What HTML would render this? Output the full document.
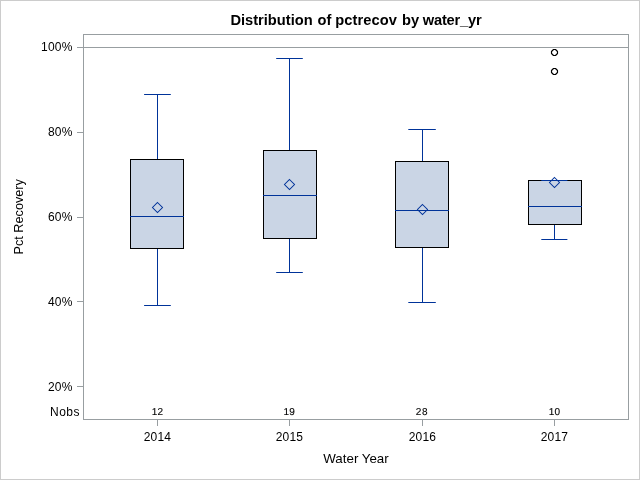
<!DOCTYPE html>
<html><head><meta charset="utf-8">
<style>
html,body{margin:0;padding:0;background:#fff;}
body{width:640px;height:480px;overflow:hidden;position:relative;font-family:"Liberation Sans",sans-serif;}
svg{position:absolute;left:0;top:0;}
text{font-family:"Liberation Sans",sans-serif;fill:#000;}
.t{font-size:12px;}
.n{font-size:10px;text-rendering:geometricPrecision;letter-spacing:0.7px;stroke:#000;stroke-width:0.12px;}
.l{font-size:13.33px;}
.title{font-size:14.67px;font-weight:bold;}
</style></head><body>
<svg width="640" height="480" viewBox="0 0 640 480">
<rect x="0" y="0" width="640" height="480" fill="#fff"/>
<!-- outer frame -->
<g shape-rendering="crispEdges">
<rect x="0.5" y="0.5" width="639" height="479" fill="none" stroke="#cccccc" stroke-width="1"/>
<!-- plot area -->
<rect x="83.5" y="34.5" width="545" height="385" fill="#fff" stroke="#989ea1" stroke-width="1"/>
<!-- ref line -->
<line x1="83" y1="47.5" x2="629" y2="47.5" stroke="#989ea1"/>
<!-- y ticks -->
<g stroke="#989ea1">
<line x1="77" y1="47.5" x2="83" y2="47.5"/>
<line x1="77" y1="132.5" x2="83" y2="132.5"/>
<line x1="77" y1="217.5" x2="83" y2="217.5"/>
<line x1="77" y1="301.5" x2="83" y2="301.5"/>
<line x1="77" y1="386.5" x2="83" y2="386.5"/>
<!-- x ticks -->
<line x1="157.5" y1="420" x2="157.5" y2="426"/>
<line x1="289.5" y1="420" x2="289.5" y2="426"/>
<line x1="422.5" y1="420" x2="422.5" y2="426"/>
<line x1="554.5" y1="420" x2="554.5" y2="426"/>
</g>
<!-- boxes -->
<g stroke="#003399" stroke-width="1" fill="none">
<!-- 2014 -->
<line x1="157.5" y1="94" x2="157.5" y2="159"/>
<line x1="157.5" y1="249" x2="157.5" y2="306"/>
<!-- 2015 -->
<line x1="289.5" y1="58" x2="289.5" y2="150"/>
<line x1="289.5" y1="239" x2="289.5" y2="273"/>
<!-- 2016 -->
<line x1="422.5" y1="129" x2="422.5" y2="161"/>
<line x1="422.5" y1="248" x2="422.5" y2="303"/>
<!-- 2017 -->
<line x1="554.5" y1="225" x2="554.5" y2="240"/>
</g>
<g stroke="#000" stroke-width="1" fill="#cad5e5">
<rect x="130.5" y="159.5" width="53" height="89"/>
<rect x="263.5" y="150.5" width="53" height="88"/>
<rect x="395.5" y="161.5" width="53" height="86"/>
<rect x="528.5" y="180.5" width="53" height="44"/>
</g>
<g stroke="#003399" stroke-width="1" fill="none">
<line x1="130" y1="216.5" x2="184" y2="216.5"/>
<line x1="263" y1="195.5" x2="317" y2="195.5"/>
<line x1="395" y1="210.5" x2="449" y2="210.5"/>
<line x1="528" y1="206.5" x2="582" y2="206.5"/>

</g>
</g>
<!-- whisker caps -->
<g stroke="#003399" stroke-width="1" fill="none">
<line x1="144.1" y1="94.5" x2="170.8" y2="94.5"/>
<line x1="144.1" y1="305.5" x2="170.8" y2="305.5"/>
<line x1="276.2" y1="58.5" x2="302.8" y2="58.5"/>
<line x1="276.2" y1="272.5" x2="302.8" y2="272.5"/>
<line x1="408.3" y1="129.5" x2="435.8" y2="129.5"/>
<line x1="408.3" y1="302.5" x2="435.8" y2="302.5"/>
<line x1="541.3" y1="239.5" x2="567.4" y2="239.5"/>
<line x1="541.3" y1="180.5" x2="567.4" y2="180.5"/>
</g>
<!-- diamonds -->
<g stroke="#003399" stroke-width="1.05" fill="none">
<path d="M157.5 202.5 L162.5 207.5 L157.5 212.5 L152.5 207.5 Z"/>
<path d="M289.5 179.5 L294.5 184.5 L289.5 189.5 L284.5 184.5 Z"/>
<path d="M422.5 204.5 L427.5 209.5 L422.5 214.5 L417.5 209.5 Z"/>
<path d="M554.5 177.5 L559.5 182.5 L554.5 187.5 L549.5 182.5 Z"/>
</g>
<!-- outliers -->
<g stroke="#000" stroke-width="1.15" fill="none" stroke-linejoin="round">
<path d="M553.5 49.5 L555.5 49.5 L557.5 51.5 L557.5 53.5 L555.5 55.5 L553.5 55.5 L551.5 53.5 L551.5 51.5 Z"/>
<path d="M553.5 68.5 L555.5 68.5 L557.5 70.5 L557.5 72.5 L555.5 74.5 L553.5 74.5 L551.5 72.5 L551.5 70.5 Z"/>
</g>
<!-- text -->
<text class="title" y="24.6"><tspan x="230.4">Distribution </tspan><tspan x="317.6">of </tspan><tspan x="335.2" style="letter-spacing:0.1px">pctrecov </tspan><tspan x="402.1">by </tspan><tspan x="422.7" style="letter-spacing:-0.18px">water_yr</tspan></text>
<g class="t" text-anchor="end" style="letter-spacing:0.2px">
<text x="72.6" y="51">100%</text>
<text x="72.6" y="136">80%</text>
<text x="72.6" y="221">60%</text>
<text x="72.6" y="306">40%</text>
<text x="72.6" y="391">20%</text>
<text x="80" y="416" style="letter-spacing:0.5px">Nobs</text>
</g>
<g class="n" text-anchor="middle">
<text x="157.5" y="415" style="letter-spacing:0.2px">12</text>
<text x="289.3" y="415" style="letter-spacing:0.2px">19</text>
<text x="422" y="415">28</text>
<text x="554.5" y="415" style="letter-spacing:0.2px">10</text>
</g>
<g class="t" text-anchor="middle" style="letter-spacing:0.2px">
<text x="157.5" y="441">2014</text>
<text x="289.5" y="441">2015</text>
<text x="422.5" y="441">2016</text>
<text x="554.5" y="441">2017</text>
</g>
<text class="l" x="356" y="463" text-anchor="middle">Water Year</text>
<text class="l" transform="translate(23,216.8) rotate(-90) scale(0.95,1)" text-anchor="middle">Pct Recovery</text>
</svg>
</body></html>
